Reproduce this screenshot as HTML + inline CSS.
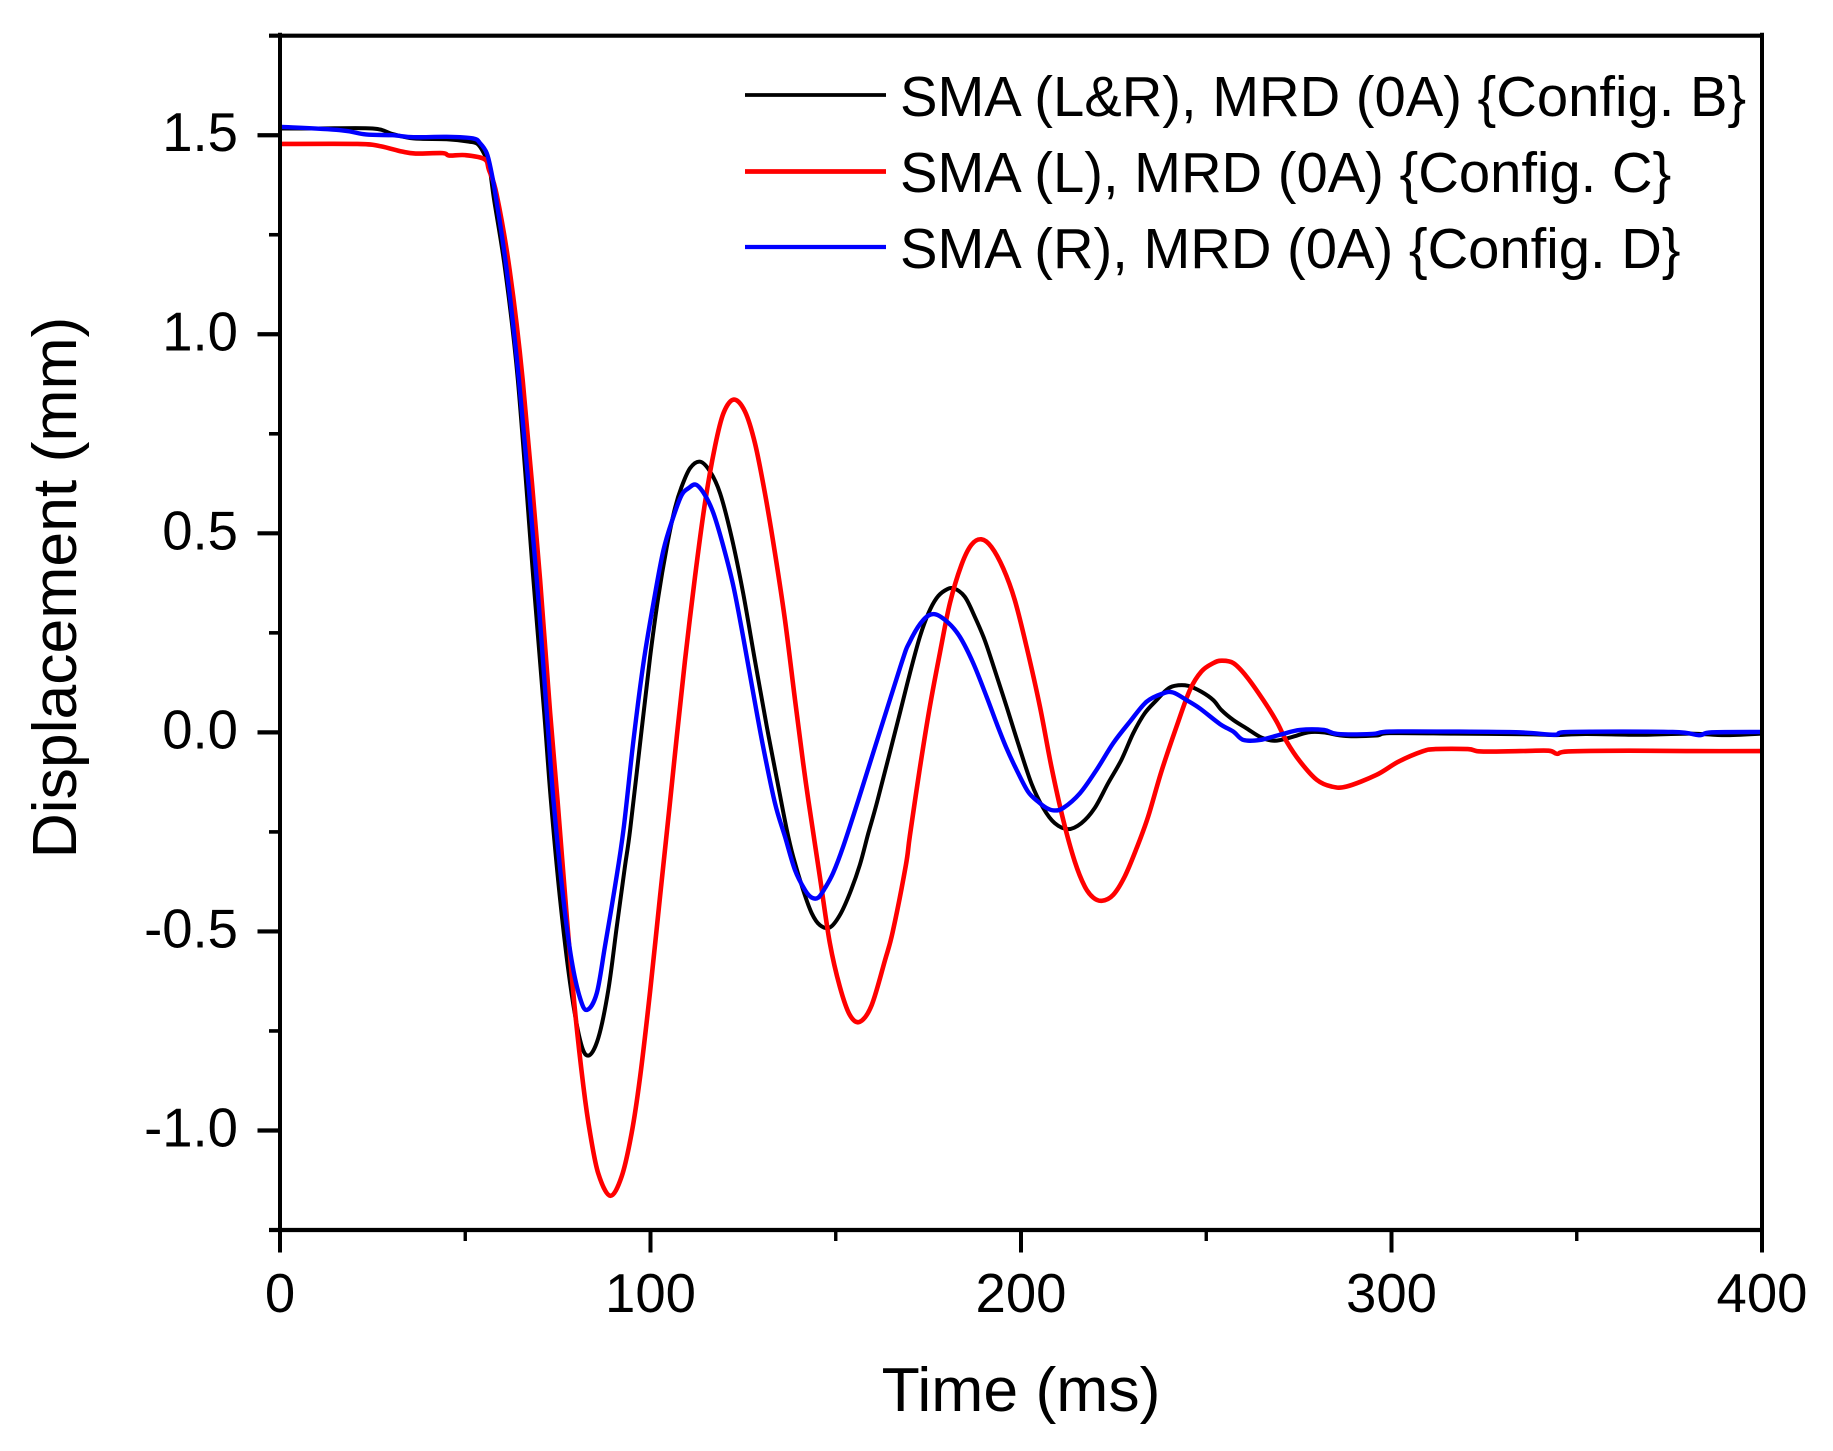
<!DOCTYPE html>
<html>
<head>
<meta charset="utf-8">
<title>Displacement vs Time</title>
<style>
html,body{margin:0;padding:0;background:#fff;}
svg{display:block;font-family:"Liberation Sans",Arial,sans-serif;fill:#000;}
</style>
</head>
<body>
<svg id="chart" xmlns="http://www.w3.org/2000/svg" width="1833" height="1451" viewBox="0 0 1833 1451">
  <rect x="0" y="0" width="1833" height="1451" fill="#fff"/>
  <g id="series-layer"></g>
  <g id="axes-layer"></g>
  <text x="1021" y="1411" font-size="62.5" text-anchor="middle">Time (ms)</text>
  <text transform="translate(76,587.5) rotate(-90)" font-size="62.5" text-anchor="middle">Displacement (mm)</text>
  <g>
    <line x1="745" y1="95" x2="886" y2="95" stroke="#000" stroke-width="3.8"/>
    <text x="900" y="116" font-size="56.2">SMA (L&amp;R), MRD (0A) {Config. B}</text>
    <line x1="745" y1="171.5" x2="886" y2="171.5" stroke="#f00" stroke-width="4.8"/>
    <text x="900" y="192" font-size="56.2">SMA (L), MRD (0A) {Config. C}</text>
    <line x1="745" y1="247" x2="886" y2="247" stroke="#00f" stroke-width="4.2"/>
    <text x="900" y="268" font-size="56.2">SMA (R), MRD (0A) {Config. D}</text>
  </g>
</svg>
<script>
const xTickValues = [0, 100, 200, 300, 400];
const xTickLabels = ["0", "100", "200", "300", "400"];
const xMinorTicks = [50, 150, 250, 350];
const yTickValues = [-1, -0.5, 0, 0.5, 1, 1.5];
const yTickLabels = ["-1.0", "-0.5", "0.0", "0.5", "1.0", "1.5"];
const yMinorTicks = [-1.25, -0.75, -0.25, 0.25, 0.75, 1.25, 1.75];

const timeB = [0,10,25,30.4,36,45,51,53.3,55,56.5,57.8,60.8,64.2,68.4,71.3,73.1,75.6,78.3,81,83.2,85.9,88.6,90.9,93.1,94.5,97.6,99.9,102.1,104.4,106.6,108.4,110.7,113.4,116.1,118.8,121.9,125,128.2,131.4,134.5,136.8,138.5,141.2,143.5,145.7,148.4,151.1,153.8,156.5,158.8,161.3,167.3,170,172.7,175,177.2,179.4,181.7,184.8,187.5,190.2,192.9,196.1,199.2,202.8,206,209.1,212.7,216.3,219.9,223.5,227.1,230.3,233.4,236.6,239.3,241.5,245.1,248.7,251.9,254.1,257.3,260.9,264.9,268.5,273,277.5,281.6,287.7,295.9,299.5,317.1,338.3,344.1,352.4,367.6,380.6,390,400];
const valuesB = [1.517,1.517,1.517,1.503,1.492,1.49,1.484,1.478,1.455,1.42,1.337,1.16,0.885,0.383,0.05,-0.17,-0.42,-0.63,-0.773,-0.812,-0.768,-0.648,-0.488,-0.337,-0.245,0.006,0.19,0.34,0.466,0.563,0.617,0.664,0.68,0.655,0.6,0.49,0.35,0.18,0.014,-0.136,-0.245,-0.312,-0.396,-0.454,-0.484,-0.49,-0.459,-0.404,-0.333,-0.253,-0.17,0.048,0.148,0.24,0.299,0.337,0.356,0.362,0.341,0.291,0.232,0.157,0.065,-0.027,-0.128,-0.19,-0.228,-0.243,-0.228,-0.19,-0.128,-0.069,-0.002,0.048,0.081,0.107,0.117,0.117,0.102,0.081,0.056,0.031,0.01,-0.013,-0.021,-0.012,0,0,-0.009,-0.008,-0.002,-0.003,-0.005,-0.007,-0.004,-0.006,-0.003,-0.007,-0.003];

const timeC = [0,20.9,26.8,32.9,36.6,43.9,45.7,50,55.2,56.4,58.5,62,65.5,70.2,72.9,74.9,77.4,79.6,81.9,83.7,85.9,89.1,92.2,94.9,97.2,99.9,102.6,105.1,107.1,109.3,112,114.7,117.4,119.7,122.5,125.5,128.2,130.9,133.6,136.3,139,141.2,142.6,145.7,148.4,151.1,153.8,156.5,159.7,163.3,165.4,168.9,170,172.7,175.4,178.1,180.8,183.9,186.6,189.3,192,195.2,198.3,201.5,205.1,208.2,211.4,214.5,217.2,219.5,221.9,224.9,228,231.2,234.3,237.9,242,245.6,248.7,251.9,254.1,257.3,260.9,265.4,269,271.7,275.3,279.8,283.8,287.9,295.9,301.8,308.3,311.8,320.6,324.1,334.7,342.4,344.7,347.7,364.1,381.8,400];
const valuesC = [1.478,1.478,1.473,1.459,1.454,1.455,1.449,1.45,1.44,1.413,1.35,1.16,0.885,0.383,0.05,-0.17,-0.463,-0.697,-0.89,-1.007,-1.108,-1.164,-1.116,-1.007,-0.865,-0.65,-0.41,-0.19,-0.01,0.18,0.39,0.576,0.718,0.802,0.836,0.806,0.726,0.6,0.45,0.282,0.082,-0.077,-0.17,-0.362,-0.529,-0.639,-0.71,-0.727,-0.685,-0.572,-0.5,-0.335,-0.26,-0.09,0.065,0.199,0.324,0.42,0.471,0.485,0.466,0.412,0.333,0.215,0.065,-0.086,-0.22,-0.324,-0.387,-0.415,-0.423,-0.408,-0.362,-0.291,-0.212,-0.098,0.015,0.107,0.153,0.174,0.18,0.174,0.14,0.081,0.027,-0.023,-0.073,-0.119,-0.136,-0.136,-0.107,-0.074,-0.048,-0.042,-0.042,-0.048,-0.047,-0.046,-0.054,-0.048,-0.046,-0.047,-0.047];

const timeD = [0,16,23.2,30.4,36,45,52.1,54,55.8,57,58.4,61.2,64.5,69.3,72,73.8,76.5,78.7,81,82.9,85.5,87.7,90.4,92.7,95.4,98.1,100.8,103.5,106.2,108.4,110.2,112.3,114.7,117,119.7,122.4,125,127.7,130.4,133.6,136.3,139,141.7,143.5,145.3,147.1,149.3,152,156.1,167.3,170,173.6,176.7,180.3,183.5,187.1,190.7,193.4,196.1,198.8,201.9,204.6,206.9,208.9,211.4,215.9,220.4,224.9,229.4,233.9,238.4,241.1,244.7,248.3,253.7,257.3,260,264.5,269.9,275.3,281.8,285.4,294.8,299.5,317.1,334.7,344.1,348.2,375.9,382.9,386.4,400];
const valuesD = [1.521,1.513,1.502,1.5,1.495,1.496,1.492,1.48,1.455,1.41,1.337,1.16,0.885,0.383,0.05,-0.17,-0.42,-0.572,-0.668,-0.697,-0.655,-0.538,-0.388,-0.245,-0.02,0.174,0.325,0.458,0.542,0.596,0.613,0.622,0.596,0.55,0.466,0.366,0.24,0.1,-0.036,-0.178,-0.262,-0.346,-0.396,-0.415,-0.415,-0.391,-0.353,-0.287,-0.17,0.161,0.228,0.282,0.297,0.276,0.24,0.174,0.09,0.023,-0.04,-0.094,-0.149,-0.174,-0.19,-0.196,-0.19,-0.153,-0.094,-0.027,0.027,0.077,0.098,0.1,0.081,0.06,0.021,0.002,-0.019,-0.019,-0.006,0.006,0.006,-0.004,-0.004,0.002,0.002,0,-0.006,0.001,0.001,-0.007,0,0.001];

const SVG_NS = "http://www.w3.org/2000/svg";
const plotLeft = 280, plotRight = 1762, plotTop = 35.7, plotBottom = 1230;
const xMin = 0, xMax = 400, yMin = -1.25, yMax = 1.75;

function xScale(t) { return plotLeft + (t - xMin) / (xMax - xMin) * (plotRight - plotLeft); }
function yScale(v) { return plotBottom - (v - yMin) / (yMax - yMin) * (plotBottom - plotTop); }

function smoothPath(ts, vs) {
  const pts = ts.map((t, i) => [xScale(t), yScale(vs[i])]);
  let d = "M" + pts[0][0].toFixed(2) + " " + pts[0][1].toFixed(2);
  for (let i = 0; i < pts.length - 1; i++) {
    const p0 = pts[Math.max(0, i - 1)], p1 = pts[i], p2 = pts[i + 1], p3 = pts[Math.min(pts.length - 1, i + 2)];
    const c1x = p1[0] + (p2[0] - p0[0]) / 6, c1y = p1[1] + (p2[1] - p0[1]) / 6;
    const c2x = p2[0] - (p3[0] - p1[0]) / 6, c2y = p2[1] - (p3[1] - p1[1]) / 6;
    d += "C" + c1x.toFixed(2) + " " + c1y.toFixed(2) + " " + c2x.toFixed(2) + " " + c2y.toFixed(2) + " " + p2[0].toFixed(2) + " " + p2[1].toFixed(2);
  }
  return d;
}

const seriesLayer = document.getElementById("series-layer");
const axesLayer = document.getElementById("axes-layer");

function addSeries(name, ts, vs, color, width) {
  const path = document.createElementNS(SVG_NS, "path");
  path.setAttribute("d", smoothPath(ts, vs));
  path.setAttribute("fill", "none");
  path.setAttribute("stroke", color);
  path.setAttribute("stroke-width", width);
  path.setAttribute("stroke-linejoin", "round");
  
  
  seriesLayer.appendChild(path);
}
addSeries("series-config-b", timeB, valuesB, "#000", 4);
addSeries("series-config-c", timeC, valuesC, "#f00", 4.6);
addSeries("series-config-d", timeD, valuesD, "#00f", 4.4);

function addLine(name, x1, y1, x2, y2, width) {
  const line = document.createElementNS(SVG_NS, "line");
  line.setAttribute("x1", x1);
  line.setAttribute("y1", y1);
  line.setAttribute("x2", x2);
  line.setAttribute("y2", y2);
  line.setAttribute("stroke", "#000");
  line.setAttribute("stroke-width", width);
  
  
  axesLayer.appendChild(line);
}
function addLabel(name, x, y, str, anchor) {
  const text = document.createElementNS(SVG_NS, "text");
  text.setAttribute("x", x);
  text.setAttribute("y", y);
  text.setAttribute("font-size", "54.5");
  text.setAttribute("text-anchor", anchor);
  text.textContent = str;
  
  
  axesLayer.appendChild(text);
}

addLine("left-axis", plotLeft, plotTop - 3, plotLeft, plotBottom + 22.5, 4);
addLine("right-axis", plotRight, plotTop - 3, plotRight, plotBottom + 22.5, 4);
addLine("top-axis", plotLeft - 11, plotTop, plotRight, plotTop, 4.2);
addLine("bottom-axis", plotLeft - 11, plotBottom, plotRight, plotBottom, 4.2);

xTickValues.forEach((t, i) => {
  addLine("x-tick-" + xTickLabels[i], xScale(t), plotBottom, xScale(t), plotBottom + 22.5, 4);
  addLabel("x-tick-label-" + xTickLabels[i], xScale(t), 1312, xTickLabels[i], "middle");
});
xMinorTicks.forEach((t) => {
  addLine("x-minor-tick-" + t, xScale(t), plotBottom, xScale(t), plotBottom + 11, 3.4);
});
yTickValues.forEach((v, i) => {
  addLine("y-tick-" + yTickLabels[i], plotLeft - 22.5, yScale(v), plotLeft, yScale(v), 4.2);
  addLabel("y-tick-label-" + yTickLabels[i], 238, yScale(v) + 16, yTickLabels[i], "end");
});
yMinorTicks.forEach((v) => {
  addLine("y-minor-tick-" + v, plotLeft - 11, yScale(v), plotLeft, yScale(v), 3.6);
});
</script>
</body>
</html>
